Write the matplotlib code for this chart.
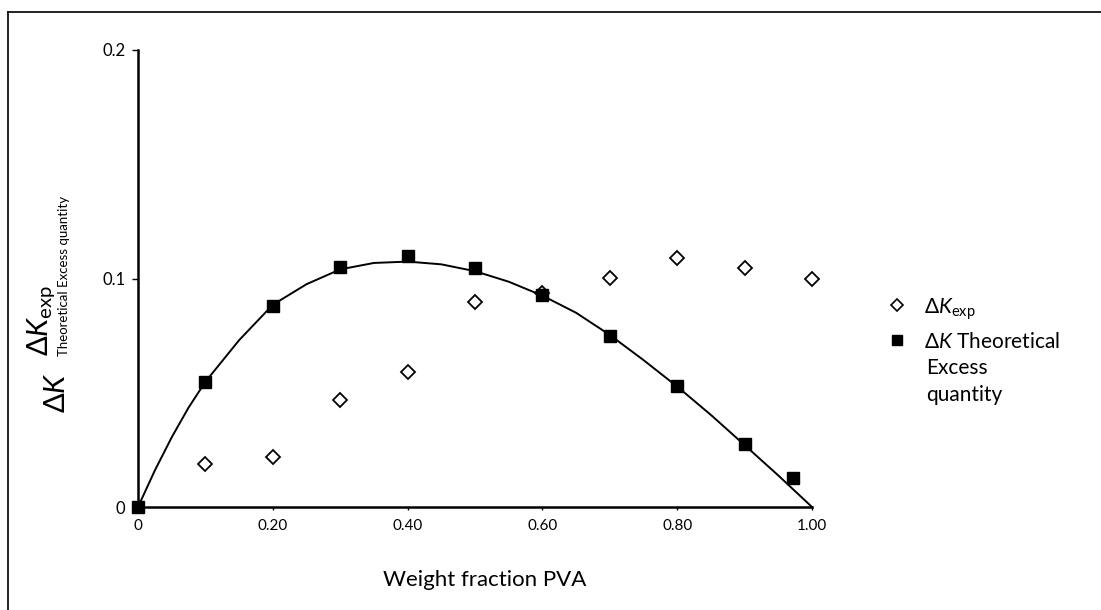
import matplotlib
matplotlib.use("Agg")
import matplotlib.pyplot as plt
from matplotlib.lines import Line2D

plt.rcParams['font.family'] = ['Lato', 'DejaVu Sans']
plt.rcParams['mathtext.fontset'] = 'custom'
plt.rcParams['mathtext.rm'] = 'Lato'
plt.rcParams['mathtext.it'] = 'Lato:italic'
plt.rcParams['mathtext.fallback'] = 'stixsans'

# dK experimental (open diamonds)
x_exp = [0.1, 0.2, 0.3, 0.4, 0.5, 0.6, 0.7, 0.8, 0.9, 1.0]
dk_exp = [0.0188, 0.0220, 0.0468, 0.0592, 0.0899, 0.0935, 0.1001, 0.1088, 0.1045, 0.0996]

# dK theoretical excess quantity (filled squares)
x_theo = [0.0, 0.1, 0.2, 0.3, 0.4, 0.5, 0.6, 0.7, 0.8, 0.9, 0.972]
dk_theo = [0.0, 0.0548, 0.0881, 0.1050, 0.1098, 0.1045, 0.0928, 0.0750, 0.0531, 0.0276, 0.0126]

# trend curve
x_curve = [0.0, 0.025, 0.05, 0.075, 0.1, 0.15, 0.2, 0.25, 0.3, 0.35, 0.4, 0.45, 0.5,
           0.55, 0.6, 0.65, 0.7, 0.75, 0.8, 0.85, 0.9, 0.95, 1.0]
dk_curve = [0.0, 0.0160, 0.0305, 0.0435, 0.0548, 0.0730, 0.0885, 0.0975, 0.1040, 0.1068,
            0.1074, 0.1062, 0.1032, 0.0986, 0.0925, 0.0850, 0.0753, 0.0643, 0.0527,
            0.0403, 0.0271, 0.0138, 0.0]

x_ticks = [0, 0.2, 0.4, 0.6, 0.8, 1.0]
x_ticklabels = ['0', '0.20', '0.40', '0.60', '0.80', '1.00']
y_ticks = [0, 0.1, 0.2]
y_ticklabels = ['0', '0.1', '0.2']

W, H = 1101, 610
fig = plt.figure(figsize=(W / 100, H / 100), dpi=100)
ax = fig.add_axes([138 / W, 1 - 507 / H, 674 / W, 457 / H])

ax.plot(x_curve, dk_curve, color='black', lw=1.4, clip_on=False, zorder=2)
ax.plot(x_exp, dk_exp, ls='none', marker='D', ms=7, mfc='white', mec='black',
        mew=1.3, clip_on=False, zorder=3)
ax.plot(x_theo, dk_theo, ls='none', marker='s', ms=8.5, color='black',
        clip_on=False, zorder=4)

ax.set_xlim(0, 1.0)
ax.set_ylim(0, 0.2)
ax.set_xticks(x_ticks)
ax.set_xticklabels(x_ticklabels, fontsize=11)
ax.set_yticks(y_ticks)
ax.set_yticklabels(y_ticklabels, fontsize=12)
ax.tick_params(axis='x', length=2.5, width=1, pad=6)
ax.tick_params(axis='y', length=4, width=1, pad=5)
for s in ['top', 'right']:
    ax.spines[s].set_visible(False)
for s in ['left', 'bottom']:
    ax.spines[s].set_linewidth(1.8)

fig.text(485 / W, 1 - 580 / H, 'Weight fraction PVA', fontsize=16,
         ha='center', va='center')

# y label, two rotated lines
fig.text(41 / W, 1 - 320 / H, r'$\Delta \mathit{K}_{\mathrm{exp}}$', fontsize=21,
         rotation=90, ha='center', va='center')
fig.text(57 / W, 1 - 413 / H, r'$\Delta \mathit{K}$', fontsize=21,
         rotation=90, ha='center', va='bottom')
fig.text(64 / W, 1 - 356 / H, 'Theoretical Excess quantity', fontsize=9.5,
         rotation=90, ha='center', va='bottom')

# legend
fig.add_artist(Line2D([897 / W], [1 - 305 / H], marker='D', ms=6.5, mfc='white',
                      mec='black', mew=1.2, ls='none'))
fig.add_artist(Line2D([897 / W], [1 - 340 / H], marker='s', ms=7.5, color='black', ls='none'))
fig.text(924 / W, 1 - 309 / H, r'$\Delta \mathit{K}_{\mathrm{exp}}$', fontsize=15,
         ha='left', va='center')
fig.text(924 / W, 1 - 342 / H, r'$\Delta \mathit{K}$ Theoretical', fontsize=15,
         ha='left', va='center')
fig.text(926 / W, 1 - 368 / H, 'Excess', fontsize=15, ha='left', va='center')
fig.text(926 / W, 1 - 395 / H, 'quantity', fontsize=15, ha='left', va='center')

# scanned frame edges
fig.add_artist(Line2D([8 / W, 1.0], [1 - 12 / H, 1 - 12 / H], color='black', lw=1.2))
fig.add_artist(Line2D([8 / W, 8 / W], [0, 1 - 12 / H], color='black', lw=1.2))

fig.savefig('out.png', dpi=100)
